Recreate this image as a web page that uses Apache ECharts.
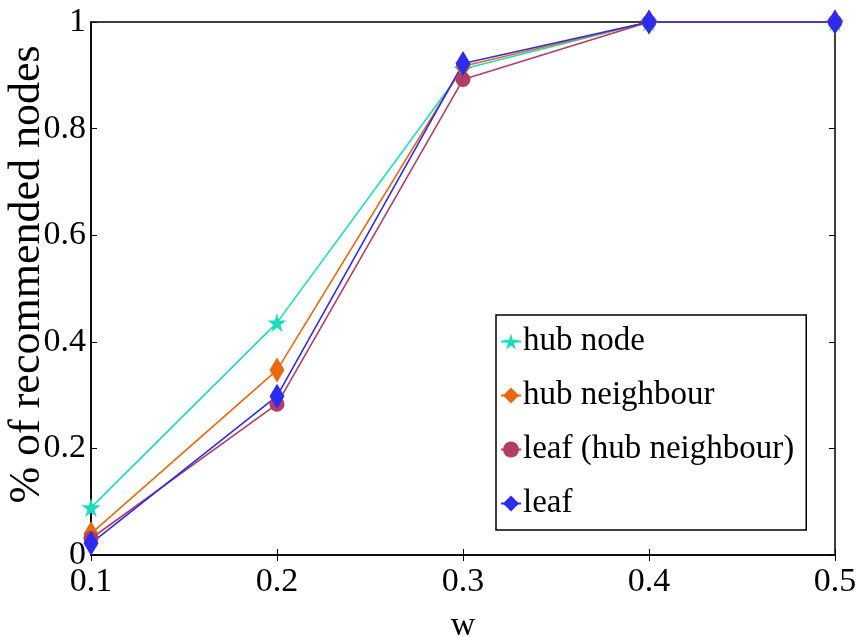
<!DOCTYPE html>
<html>
<head>
<meta charset="utf-8">
<script src="https://cdn.jsdelivr.net/npm/echarts@6/dist/echarts.min.js"></script>
<style>
  html, body { margin: 0; padding: 0; background: #fff; }
  #chart { width: 859px; height: 637px; }
</style>
</head>
<body>
<div id="chart"></div>
<script>
// values
const wValues = [0.1, 0.2, 0.3, 0.4, 0.5];
const hubNode = [0.089, 0.436, 0.912, 1, 1];
const hubNeighbour = [0.040, 0.347, 0.917, 1, 1];
const leafHubNeighbour = [0.031, 0.283, 0.892, 1, 1];
const leaf = [0.022, 0.298, 0.922, 1, 1];
const seriesNames = ['hub node', 'hub neighbour', 'leaf (hub neighbour)', 'leaf'];

const FONT = 'Liberation Serif';
const star = 'path://M50,0 L61,35 L98,35 L68,57 L79,91 L50,70 L21,91 L32,57 L2,35 L39,35 Z';

function pairs(ys) {
  return wValues.map((x, i) => [x, ys[i]]);
}

function line(name, ys, color, symbol, size) {
  return {
    name: name,
    type: 'line',
    data: pairs(ys),
    symbol: symbol,
    symbolSize: size,
    showAllSymbol: true,
    itemStyle: { color: color },
    lineStyle: { color: color, width: 1.6 },
    emphasis: { disabled: true },
    animation: false
  };
}

const chart = echarts.init(document.getElementById('chart'));
const tickStyle = { show: true, inside: true, length: 6, lineStyle: { color: '#000', width: 1 } };

chart.setOption({
  backgroundColor: '#fff',
  grid: {
    left: 91, right: 24, top: 22, bottom: 82,
    containLabel: false, outerBoundsMode: 'none',
    show: true, borderColor: '#000', borderWidth: 1.5
  },
  legend: {
    data: seriesNames,
    orient: 'vertical',
    left: 496, top: 315,
    padding: [10, 12, 10, 4],
    itemGap: 21,
    itemWidth: 20, itemHeight: 20,
    borderColor: '#000', borderWidth: 1.5,
    backgroundColor: '#fff',
    textStyle: { fontFamily: FONT, fontSize: 33, color: '#000', padding: [0, 0, 0, -3] }
  },
  xAxis: [{
    type: 'value', min: 0.1, max: 0.5, interval: 0.1,
    name: 'w', nameLocation: 'middle', nameGap: 54, nameMoveOverlap: false,
    nameTextStyle: { fontFamily: FONT, fontSize: 34, color: '#000' },
    axisLine: { show: true, lineStyle: { color: '#000', width: 1.5 } },
    axisTick: tickStyle,
    splitLine: { show: false },
    axisLabel: { fontFamily: FONT, fontSize: 34, color: '#000', margin: 10 }
  }, {
    type: 'value', min: 0.1, max: 0.5, interval: 0.1, position: 'top',
    axisLine: { show: false }, axisTick: tickStyle,
    axisLabel: { show: false }, splitLine: { show: false }
  }],
  yAxis: [{
    type: 'value', min: 0, max: 1, interval: 0.2,
    name: '% of recommended nodes', nameLocation: 'middle', nameGap: 42, nameMoveOverlap: false,
    nameTextStyle: { fontFamily: FONT, fontSize: 44, color: '#000', padding: [0, 0, 0, 28] },
    axisLine: { show: true, lineStyle: { color: '#000', width: 1.5 } },
    axisTick: tickStyle,
    splitLine: { show: false },
    axisLabel: { fontFamily: FONT, fontSize: 34, color: '#000', margin: 5 }
  }, {
    type: 'value', min: 0, max: 1, interval: 0.2, position: 'right',
    axisLine: { show: false }, axisTick: tickStyle,
    axisLabel: { show: false }, splitLine: { show: false }
  }],
  series: [
    line(seriesNames[0], hubNode, '#1ddcbb', star, 19),
    line(seriesNames[1], hubNeighbour, '#ea6812', 'diamond', [15, 25]),
    line(seriesNames[2], leafHubNeighbour, '#b33d63', 'circle', 15),
    line(seriesNames[3], leaf, '#2c2cf0', 'diamond', [15, 25])
  ]
});
</script>
</body>
</html>
